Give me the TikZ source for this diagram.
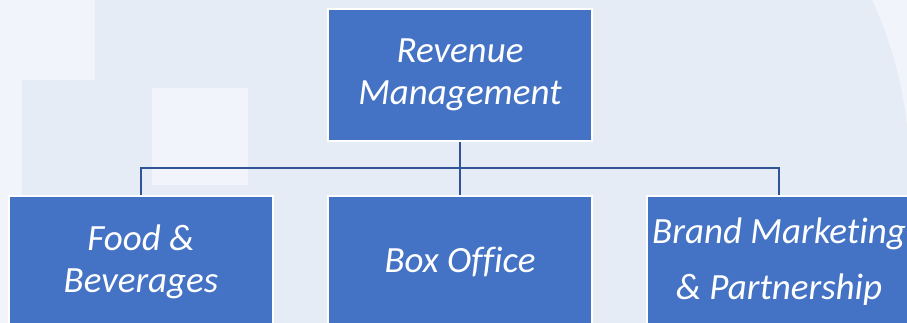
\documentclass[tikz,border=0pt]{standalone}
\usepackage{fontspec}
\setmainfont{Carlito}[Ligatures=NoCommon]
\usetikzlibrary{calc}
\definecolor{unitblue}{HTML}{4472C4}
\definecolor{linkblue}{HTML}{2F5597}
\definecolor{paper}{HTML}{E6ECF5}
\definecolor{paperlight}{HTML}{F1F4FA}
\tikzstyle{unit} = [draw=white, line width=2pt, fill=unitblue, text=white, minimum width=264pt, minimum height=132pt, inner sep=0pt, align=center, font=\fontsize{37}{42}\selectfont\itshape]
\tikzstyle{link} = [draw=linkblue, line width=2pt]

\begin{document}
\begin{tikzpicture}[x=1pt,y=1pt]
    \useasboundingbox (0,0) rectangle (907,323);
    % faint watermark behind the chart
    \fill[paper] (0,0) rectangle (907,323);
    \fill[paperlight] (0,0) rectangle (22,323);
    \fill[paperlight] (0,243) rectangle (95,323);
    \fill[paperlight] (152,138) rectangle (248,235);
    \fill[paperlight] (872,323) .. controls (890,285) and (903,240) .. (907,195) -- (907,323) -- cycle;
    \draw (460,248) node[unit] (rev) {Revenue\\Management};
    \draw (141,61) node[unit] (food) {Food \&\\Beverages};
    \draw (460,61) node[unit] (box) {Box Office};
    \draw (779,61) node[unit] (brand) {Brand Marketing\\[14pt]\& Partnership};
    \coordinate (bus) at ($(rev.south)!.5!(box.north)$);
    \draw [link] (rev.south) -- (box.north);
    \draw [link] (bus) -| (food.north);
    \draw [link] (bus) -| (brand.north);
\end{tikzpicture}
\end{document}
